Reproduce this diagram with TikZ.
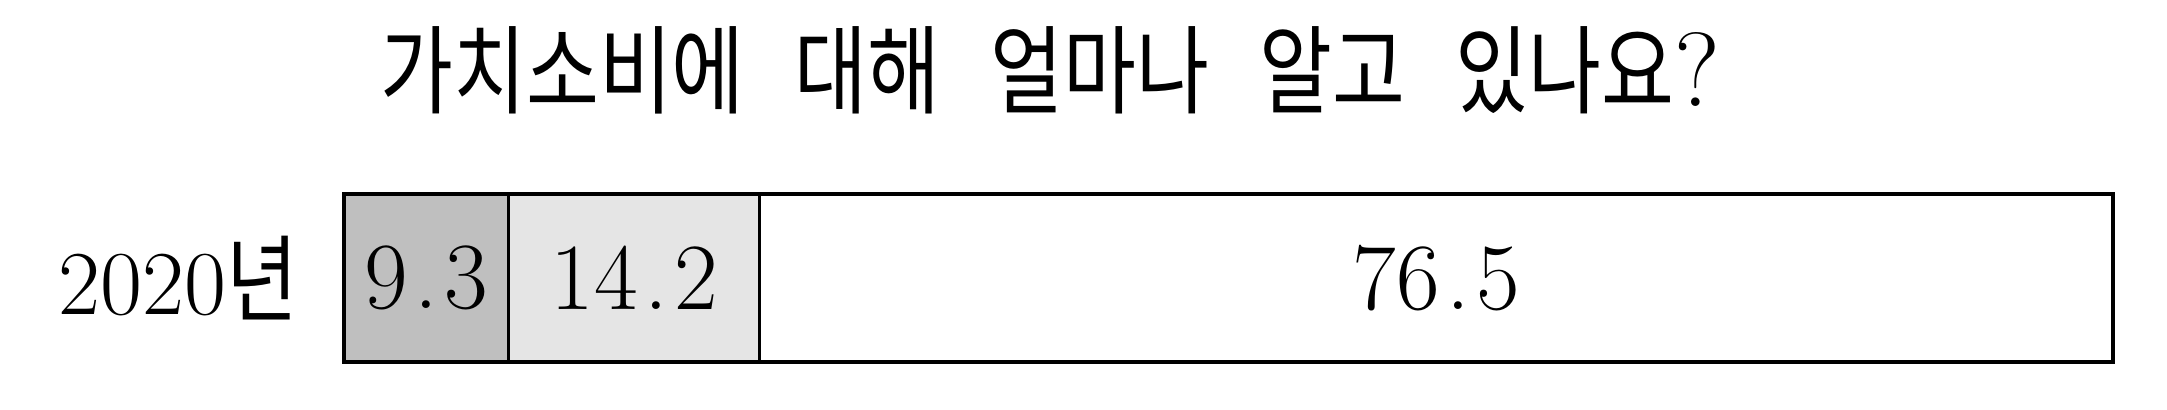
\documentclass[tikz,border=0pt]{standalone}
\usepackage{fontspec}
\newfontfamily\kr[FakeStretch=0.82]{Noto Sans CJK KR}
\newcommand{\val}[2]{#1\kern1.8pt.\kern1.8pt#2}
\usetikzlibrary{positioning}
\begin{document}
\begin{tikzpicture}
\tikzstyle{seg}=[rectangle, draw=black, line width=0.85pt, minimum height=1.68cm, inner sep=0pt, outer sep=0pt, font=\fontsize{27}{32}\selectfont]
\tikzstyle{frame}=[line width=1.2pt]
\tikzstyle{yearlbl}=[inner sep=0pt, font=\fontsize{26}{30}\selectfont]
\tikzstyle{titletxt}=[inner sep=0pt, font=\fontsize{27.5}{32}\selectfont\kr]
\useasboundingbox (0,0) rectangle (21.67,4.10);
  \node[seg, fill=black!25, minimum width=1.645cm] (s1) at (4.263,1.32) {\val{9}{3}};
  \node[seg, fill=black!10, minimum width=2.512cm] (s2) [right=0pt of s1] {\val{14}{2}};
  \node[seg, fill=white, minimum width=13.533cm] (s3) [right=0pt of s2] {\val{76}{5}};
  \draw[frame] (s1.north west) rectangle (s3.south east);
\node[yearlbl] (y2020) [left=0.45cm of s1] {2020{\fontsize{27}{30}\selectfont\kr 년}};
\node[titletxt] (title) at (10.50,3.40) {가치소비에\hspace{0.5cm}대해\hspace{0.5cm}얼마나\hspace{0.5cm}알고\hspace{0.5cm}있나요{\rmfamily\fontsize{30}{32}\selectfont ?}};
\end{tikzpicture}
\end{document}
